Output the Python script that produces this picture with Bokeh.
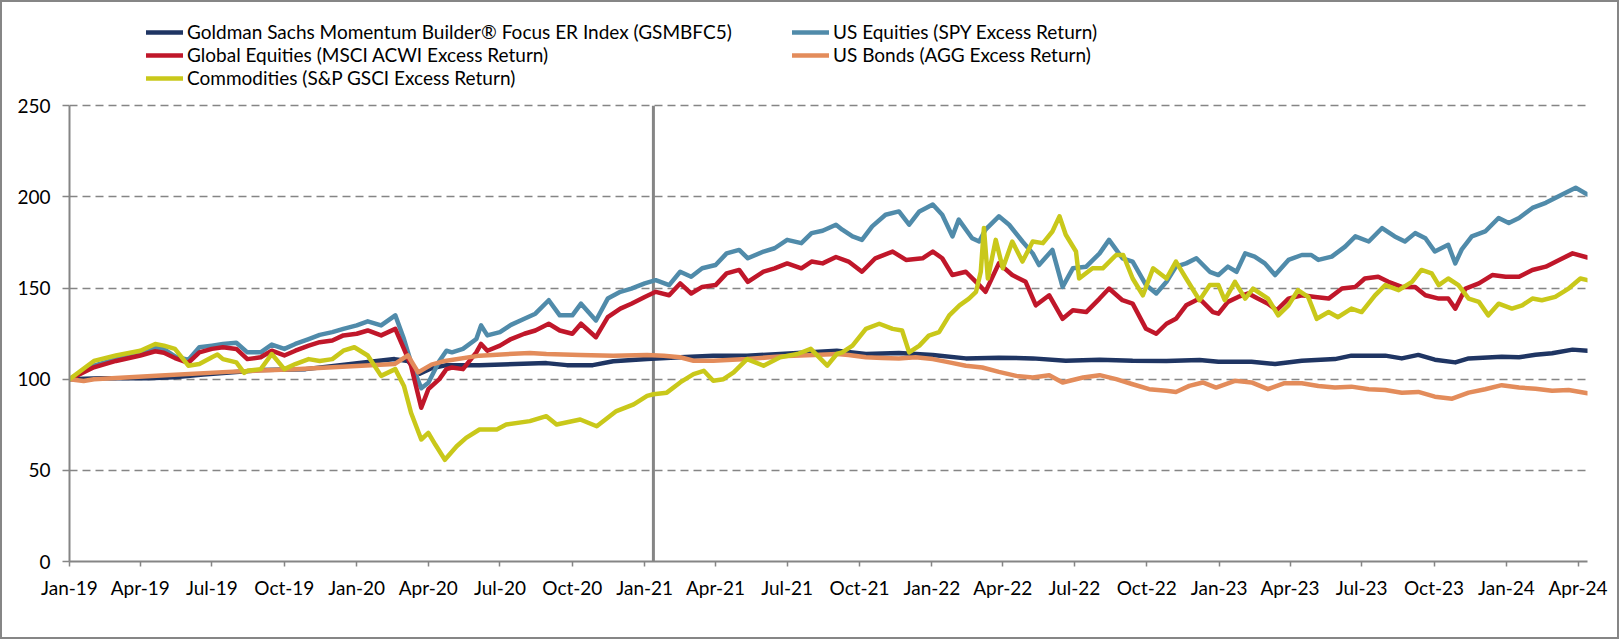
import pandas as pd
from bokeh.plotting import figure
from bokeh.models import (Legend, LegendItem, FixedTicker, DatetimeTickFormatter,
                          Range1d, ColumnDataSource)
from bokeh.embed import file_html
from bokeh.resources import INLINE

# ---------------- data ----------------
base_date = "2019-01-01"
end_day = 1929
live_date = "2021-01-12"

x_tick_dates = ["2019-01-01", "2019-04-01", "2019-07-01", "2019-10-01",
                "2020-01-01", "2020-04-01", "2020-07-01", "2020-10-01",
                "2021-01-01", "2021-04-01", "2021-07-01", "2021-10-01",
                "2022-01-01", "2022-04-01", "2022-07-01", "2022-10-01",
                "2023-01-01", "2023-04-01", "2023-07-01", "2023-10-01",
                "2024-01-01", "2024-04-01"]
y_ticks = [0, 50, 100, 150, 200, 250]

series_names = [
    "Goldman Sachs Momentum Builder\u00ae Focus ER Index (GSMBFC5)",
    "US Equities (SPY Excess Return)",
    "Global Equities (MSCI ACWI Excess Return)",
    "US Bonds (AGG Excess Return)",
    "Commodities (S&P GSCI Excess Return)",
]
series_colors = ["#1F3563", "#508BAA", "#C0172A", "#E38C5B", "#C9C81A"]

# day offsets from base_date and index levels
gs_day = [0, 40, 100, 133, 170, 243, 300, 371, 413, 430, 445, 460, 479, 521, 606, 632, 665, 691, 734, 776,
          818, 861, 903, 975, 1012, 1054, 1097, 1139, 1181, 1224, 1266, 1309, 1351, 1394, 1436, 1460, 1502,
          1532, 1566, 1608, 1629, 1672, 1693, 1714, 1735, 1761, 1778, 1820, 1842, 1863, 1884, 1910, 1929]
gs_val = [100, 100.5, 100.5, 101, 102.5, 105, 105.5, 109, 111, 110, 103, 106, 107.7, 107.7, 108.8, 107.7,
          107.7, 109.8, 111, 112, 112.9, 112.9, 113.8, 115.6, 113.8, 114.4, 113.3, 111.4, 111.8, 111.4, 110.1,
          110.7, 110.1, 109.9, 110.5, 109.6, 109.6, 108.3, 110.1, 111, 112.9, 112.9, 111.4, 113.3, 110.7, 109.2,
          111.4, 112.3, 112, 113.4, 114.2, 116.2, 115.6]

spy_day = [0, 31, 59, 90, 109, 120, 134, 151, 165, 181, 195, 212, 226, 243, 257, 273, 287, 304, 318, 334,
           348, 365, 379, 396, 414, 425, 434, 447, 456, 470, 479, 486, 500, 517, 523, 531, 547, 561, 578, 592,
           609, 623, 639, 650, 669, 684, 700, 714, 731, 745, 762, 776, 790, 804, 821, 835, 851, 862, 882, 896,
           912, 930, 943, 957, 974, 982, 995, 1007, 1020, 1037, 1054, 1067, 1080, 1097, 1109, 1122, 1130, 1147,
           1156, 1164, 1181, 1194, 1211, 1224, 1232, 1249, 1262, 1275, 1292, 1309, 1321, 1338, 1351, 1368,
           1381, 1394, 1406, 1419, 1432, 1449, 1460, 1472, 1483, 1494, 1506, 1519, 1532, 1549, 1566, 1578,
           1587, 1604, 1621, 1634, 1651, 1668, 1684, 1697, 1710, 1723, 1735, 1752, 1761, 1769, 1782, 1799,
           1816, 1829, 1842, 1859, 1876, 1888, 1905, 1914, 1929]
spy_val = [100, 107.4, 111, 114, 117.5, 116.5, 112.5, 110.5, 117.5, 118.4, 119.3, 120, 114.7, 114.7, 119,
           116.6, 119.3, 122, 124.3, 125.8, 127.6, 129.5, 131.7, 129.5, 135, 122, 109.2, 95, 98, 110, 115.6,
           114.7, 116.6, 122, 129.5, 124, 125.8, 129.8, 133.1, 135.9, 143.3, 135, 135, 141.4, 132.2, 144.2,
           147.9, 149.7, 152.5, 154.3, 151.6, 158.9, 156.2, 160.8, 162.6, 169, 170.9, 166.3, 170, 171.8, 176.4,
           174.6, 180.1, 181.4, 184.7, 182, 178.3, 176.4, 183.8, 190.2, 192, 184.7, 192, 195.8, 190.2, 178.3,
           187.5, 177.3, 175.5, 182, 189.3, 184.7, 175.5, 169, 162.6, 170.9, 150.6, 160.8, 161.7, 169, 176.4,
           166.3, 164.5, 151.6, 147, 153.4, 161.7, 163.5, 166.3, 158.9, 157.1, 161.7, 158.9, 169, 167.2, 163.5,
           157.1, 165.4, 168.1, 168.1, 165.4, 167.2, 172.7, 178.3, 175.5, 182.9, 178.3, 175.5, 180.1, 177.3,
           170, 173.7, 163.5, 171, 178.3, 181, 188.4, 185.6, 188.4, 193.9, 196.7, 199.4, 203.1, 205, 201.3]

acwi_day = [0, 31, 59, 90, 109, 120, 134, 151, 165, 181, 195, 212, 226, 243, 257, 273, 287, 304, 318, 334,
            348, 365, 379, 396, 414, 425, 434, 447, 456, 470, 479, 486, 500, 517, 523, 531, 547, 561, 578, 592,
            609, 623, 639, 650, 669, 684, 700, 714, 731, 745, 762, 776, 790, 804, 821, 835, 851, 862, 882, 896,
            912, 930, 943, 957, 974, 990, 1007, 1024, 1046, 1063, 1084, 1097, 1109, 1122, 1139, 1156, 1164,
            1181, 1198, 1215, 1228, 1245, 1262, 1275, 1292, 1309, 1321, 1338, 1351, 1368, 1381, 1394, 1406,
            1419, 1436, 1453, 1460, 1472, 1485, 1498, 1510, 1523, 1534, 1549, 1566, 1583, 1600, 1617, 1634,
            1646, 1663, 1676, 1693, 1710, 1723, 1740, 1752, 1761, 1774, 1791, 1808, 1825, 1842, 1859, 1876,
            1893, 1910, 1929]
acwi_val = [100, 106.5, 110, 113, 115.3, 114.5, 111.6, 109, 114.7, 116.6, 117.5, 116.6, 111, 112, 115.6, 113,
            115.6, 118.4, 120.3, 121.2, 124, 124.9, 126.7, 124, 127.6, 116.6, 107.4, 84.3, 94.5, 100, 105.5,
            106.4, 105.5, 114.7, 119.3, 115.6, 118.4, 122, 124.9, 126.7, 130.4, 126.7, 124.9, 130.4, 123, 134,
            138.7, 141.4, 145.1, 147.9, 146, 152.5, 147, 150.6, 151.6, 158, 159.9, 153.4, 159, 160.8, 163.5,
            160.8, 164.5, 163.5, 167, 164.5, 158.9, 166.3, 170, 165.4, 166.3, 170, 166.3, 157.1, 158.9, 151.6,
            147.9, 163.5, 157.1, 153.4, 140.5, 146, 133.1, 137.8, 136.8, 144.2, 149.7, 143.3, 141.4, 127.6,
            124.9, 130.4, 133.1, 140.5, 144.2, 136.8, 135.9, 142.4, 145.1, 147, 144.2, 141.4, 137.8, 144.2, 146,
            145.1, 144.2, 149.7, 150.6, 155.2, 156.2, 153.4, 150.6, 150.6, 146, 144.2, 144.2, 138.7, 149.7,
            152.5, 157.1, 156.2, 156.2, 159.9, 161.7, 165.4, 169, 166.7]

agg_day = [0, 18, 31, 116, 201, 286, 371, 413, 430, 443, 460, 477, 521, 585, 606, 649, 691, 734, 755, 776,
           793, 818, 861, 903, 946, 975, 990, 1012, 1033, 1054, 1075, 1097, 1118, 1139, 1160, 1181, 1203, 1224,
           1245, 1262, 1288, 1309, 1330, 1351, 1372, 1394, 1406, 1423, 1440, 1457, 1481, 1502, 1523, 1544,
           1566, 1587, 1608, 1629, 1651, 1672, 1693, 1714, 1735, 1757, 1778, 1799, 1820, 1842, 1863, 1884,
           1905, 1929]
agg_val = [100, 99, 100, 102, 104, 105.5, 107.4, 108.3, 113, 103.7, 108, 110, 112.9, 114.4, 113.8, 113.3,
           112.9, 113.3, 112.9, 112, 110.1, 110.1, 111, 112.5, 113.3, 113.8, 113.3, 112, 111.6, 111.4, 112, 111,
           109.2, 107.4, 106.4, 104, 101.8, 100.9, 102.2, 98.2, 100.9, 102.2, 100, 97.2, 94.5, 93.6, 93, 96.3,
           98.2, 95.4, 99.1, 98.2, 94.5, 97.8, 97.8, 96.3, 95.4, 95.9, 94.5, 94.1, 92.6, 93, 90.4, 89.3, 92.6,
           94.5, 96.7, 95.4, 94.8, 93.6, 94.1, 92.3]

gsci_day = [0, 31, 59, 90, 109, 120, 134, 151, 165, 181, 188, 195, 212, 222, 226, 243, 257, 273, 287, 304,
            318, 334, 348, 362, 379, 396, 414, 425, 434, 447, 456, 465, 477, 492, 504, 521, 543, 555, 585, 606,
            619, 649, 670, 695, 717, 734, 742, 759, 776, 793, 806, 818, 831, 844, 861, 882, 903, 925, 942, 963,
            975, 982, 995, 1012, 1029, 1046, 1058, 1067, 1080, 1092, 1105, 1118, 1131, 1143, 1152, 1158, 1162,
            1167, 1177, 1186, 1198, 1211, 1224, 1237, 1249, 1258, 1266, 1279, 1283, 1300, 1313, 1330, 1339,
            1351, 1364, 1377, 1394, 1406, 1419, 1436, 1449, 1460, 1468, 1481, 1494, 1504, 1523, 1536, 1549,
            1561, 1574, 1585, 1600, 1612, 1629, 1642, 1659, 1672, 1689, 1706, 1718, 1731, 1740, 1752, 1765,
            1778, 1791, 1803, 1816, 1833, 1846, 1859, 1871, 1888, 1905, 1920, 1929]
gsci_val = [100, 110, 113, 115.6, 119.3, 118.4, 116.6, 107.4, 108.3, 112, 113.5, 111, 109.2, 103.5, 104.6,
            105.5, 113.8, 105.5, 108.3, 111, 110, 111, 115.6, 117.5, 113, 101.8, 105.5, 96.3, 81.6, 66.9, 70.5,
            64, 55.8, 63.2, 67.8, 72.4, 72.4, 75.1, 77, 79.7, 75.1, 77.9, 74.2, 82.5, 86.2, 90.8, 91.7, 92.6,
            98.2, 102.8, 104.6, 99.1, 100, 103.7, 111, 107.4, 112, 113.8, 116.6, 107.4, 113.8, 114.7, 118.4,
            127.6, 130.4, 127.6, 126.7, 114.7, 118.4, 123.9, 125.8, 135, 140.5, 144.2, 147.9, 158.9, 182.9,
            155.2, 176.4, 160.8, 175.5, 164.5, 175.5, 174.6, 181, 189.3, 179.2, 170, 155.2, 160.8, 160.8, 168.1,
            168.1, 155.2, 146, 160.8, 155.2, 164.5, 155.2, 143.3, 151.6, 151.6, 143.3, 153.4, 144.2, 149.7,
            144.2, 135, 140.5, 148.8, 145.1, 133.1, 136.8, 134, 138.7, 136.8, 146, 151.6, 148.8, 153.4, 159.9,
            158, 151.6, 155.2, 151.6, 144.2, 142.4, 135, 141.4, 138.7, 140.5, 144.2, 143.3, 145.1, 149.7, 155.2,
            154.3]

# ---------------- figure ----------------
FONT = "Lato"
GRAY = "#858585"
base = pd.Timestamp(base_date)


def to_dates(days):
    return base + pd.to_timedelta(days, unit="D")


# y range extends above 250 only to leave room for the legend (axis is bounded at 250)
p = figure(width=1619, height=639, x_axis_type="datetime",
           output_backend="svg", toolbar_location=None,
           x_range=Range1d(base, base + pd.Timedelta(days=end_day)),
           y_range=Range1d(0, 300),
           min_border_left=67, min_border_right=34, min_border_top=12, min_border_bottom=80)
p.styles = {"border": "2px solid #868686"}
p.outline_line_color = None
p.background_fill_color = "white"
p.border_fill_color = "white"

days_list = [gs_day, spy_day, acwi_day, agg_day, gsci_day]
vals_list = [gs_val, spy_val, acwi_val, agg_val, gsci_val]

# live-date marker line spanning the value axis
live_ts = pd.Timestamp(live_date)
p.segment(x0=[live_ts], y0=[y_ticks[0]], x1=[live_ts], y1=[y_ticks[-1]],
          line_color=GRAY, line_width=3)

renderers = []
for d, v, c in zip(days_list, vals_list, series_colors):
    src = ColumnDataSource(dict(x=to_dates(d), y=v))
    r = p.line("x", "y", source=src, line_color=c, line_width=4.5, line_join="round", line_cap="round")
    renderers.append(r)

# axes
p.xgrid.visible = False
p.ygrid.grid_line_color = GRAY
p.ygrid.grid_line_dash = "8 5"
p.ygrid.grid_line_width = 1.5
p.yaxis.ticker = FixedTicker(ticks=y_ticks)
p.yaxis.bounds = (y_ticks[0], y_ticks[-1])
p.xaxis.ticker = FixedTicker(ticks=[pd.Timestamp(t).value // 10**6 for t in x_tick_dates])
fmt = "%b-%y"
p.xaxis.formatter = DatetimeTickFormatter(days=fmt, months=fmt, years=fmt, hours=fmt,
                                          minutes=fmt, seconds=fmt, milliseconds=fmt,
                                          microseconds=fmt, minsec=fmt, hourmin=fmt)
for ax in (p.xaxis[0], p.yaxis[0]):
    ax.axis_line_color = GRAY
    ax.axis_line_width = 2
    ax.major_tick_line_color = GRAY
    ax.major_tick_line_width = 1.5
    ax.major_tick_in = 0
    ax.minor_tick_line_color = None
    ax.major_label_text_font = FONT
    ax.major_label_text_font_size = "19px"
    ax.major_label_text_color = "#000000"
p.yaxis.major_tick_out = 7
p.yaxis.major_label_standoff = 12
p.xaxis.major_tick_out = 5
p.xaxis.major_label_standoff = 9


# legends (two columns, above the value area)
def make_legend(idx, loc):
    return Legend(items=[LegendItem(label=series_names[i], renderers=[renderers[i]]) for i in idx],
                  location=loc, orientation="vertical",
                  label_text_font=FONT, label_text_font_size="19px", label_text_color="#000000",
                  glyph_width=37, glyph_height=16, label_height=16, label_standoff=4,
                  spacing=0, padding=0, margin=0,
                  border_line_color=None, background_fill_alpha=0)


p.add_layout(make_legend([0, 2, 4], (77, 472)), "center")
p.add_layout(make_legend([1, 3], (723, 495)), "center")

open("out.html", "w").write(file_html(p, INLINE))
